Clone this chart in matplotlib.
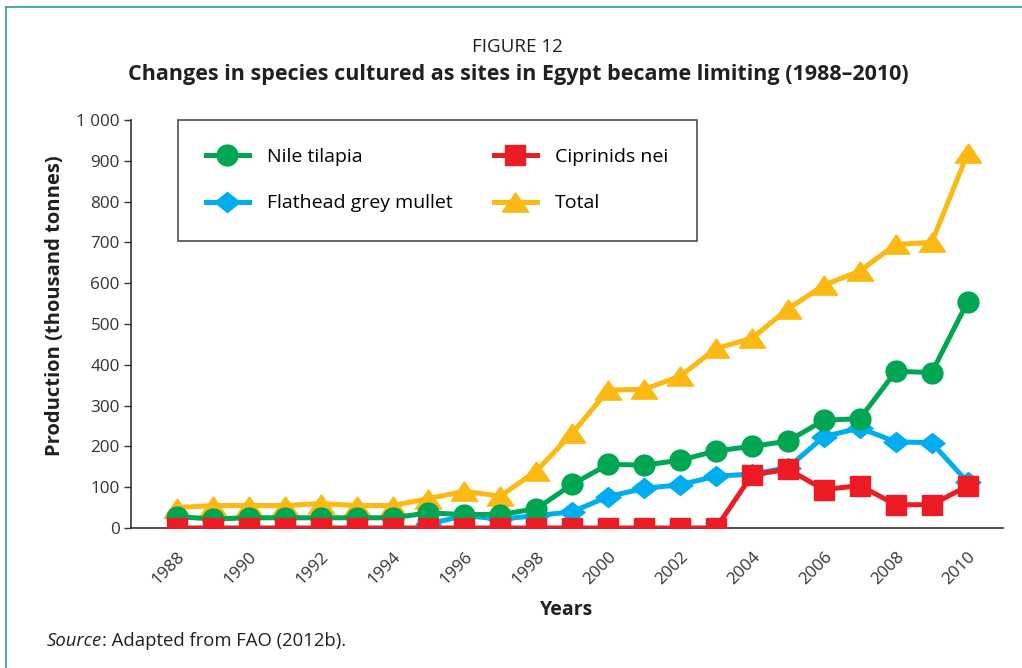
import matplotlib.pyplot as plt
from matplotlib.lines import Line2D

plt.rcParams['font.family'] = ['Open Sans', 'DejaVu Sans']

YEARS = list(range(1988, 2011))
TILAPIA = [28, 22, 25, 25, 25, 25, 25, 37, 33, 33, 47, 107, 156, 154,
           166, 189, 200, 213, 264, 268, 384, 381, 555]
MULLET = [None] * 7 + [10, 30, 22, 30, 40, 77, 97, 106, 127, 132, 148,
                       224, 245, 211, 209, 112]
CIPRINIDS = [0] * 16 + [130, 144, 94, 104, 57, 57, 103]
TOTAL = [50, 55, 55, 55, 60, 55, 55, 72, 90, 78, 140, 232, 338, 340,
         372, 440, 465, 537, 595, 630, 695, 700, 918]

X_TICKS = list(range(1988, 2011, 2))
Y_TICKS = list(range(0, 1001, 100))
Y_LABELS = ['0', '100', '200', '300', '400', '500', '600', '700', '800',
            '900', '1 000']

GREEN = '#00a651'
BLUE = '#00aeef'
RED = '#ed1c24'
YELLOW = '#fdb913'
TXT = '#231f20'

# marqueurs un peu aplatis comme dans l'original
TRI = [(0, 0.73), (-1, -0.73), (1, -0.73), (0, 0.73)]
DIAM = [(0, 0.8), (1, 0), (0, -0.8), (-1, 0), (0, 0.8)]

fig = plt.figure(figsize=(10.22, 6.68), dpi=100)
ax = fig.add_axes([0.128, 0.2096, 0.853, 0.6108])

lw = 3.6
ax.plot(YEARS, TOTAL, color=YELLOW, marker=TRI, markersize=19, lw=lw, zorder=2)
x_m = [y for y, v in zip(YEARS, MULLET) if v is not None]
v_m = [v for v in MULLET if v is not None]
ax.plot(x_m, v_m, color=BLUE, marker=DIAM, markersize=18, lw=lw, zorder=3)
ax.plot(YEARS, TILAPIA, color=GREEN, marker='o', markersize=15, lw=lw, zorder=4)
ax.plot(YEARS, CIPRINIDS, color=RED, marker='s', markersize=14, lw=lw, zorder=5)

ax.set_xlim(1986.72, 2010.97)
ax.set_ylim(0, 1000)
ax.set_xticks(X_TICKS)
ax.set_xticklabels([str(x) for x in X_TICKS], rotation=45, ha='right',
                   rotation_mode='anchor', fontsize=12.3, color='#333333')
ax.set_yticks(Y_TICKS)
ax.set_yticklabels(Y_LABELS, fontsize=12.3, color='#333333')
ax.tick_params(axis='x', length=0, pad=15)
ax.tick_params(axis='y', length=5, width=1, color='#333333', pad=3)
for s in ['top', 'right']:
    ax.spines[s].set_visible(False)
for s in ['left', 'bottom']:
    ax.spines[s].set_color('#333333')
    ax.spines[s].set_linewidth(1.2)
ax.spines['left'].set_zorder(1)

ax.set_ylabel('Production (thousand tonnes)', fontsize=14.5, fontweight='bold',
              color=TXT)
ax.yaxis.set_label_coords(-0.076, 0.544)
ax.set_xlabel('Years', fontsize=14, fontweight='bold', color=TXT, labelpad=9)

handles = [
    Line2D([], [], color=GREEN, marker='o', markersize=15, lw=lw),
    Line2D([], [], color=BLUE, marker=DIAM, markersize=18, lw=lw),
    Line2D([], [], color=RED, marker='s', markersize=14, lw=lw),
    Line2D([], [], color=YELLOW, marker=TRI, markersize=19, lw=lw),
]
labels = ['Nile tilapia', 'Flathead grey mullet', 'Ciprinids nei', 'Total']
leg = ax.legend(handles, labels, ncol=2, loc='upper left',
                bbox_to_anchor=(0.054, 0.713, 0.595, 0.287), mode='expand',
                fancybox=False, edgecolor='#231f20', fontsize=14,
                handlelength=2.2, borderaxespad=0, labelspacing=1.45,
                borderpad=1.45, handletextpad=0.95, columnspacing=2.0)
leg.get_frame().set_linewidth(1.2)
leg.set_zorder(6)

fig.text(0.506, 0.93, 'FIGURE 12', ha='center', va='center', fontsize=13.5,
         color=TXT)
fig.text(0.507, 0.888, 'Changes in species cultured as sites in Egypt became limiting (1988\u20132010)',
         ha='center', va='center', fontsize=15.5, fontweight='bold', color=TXT)

src = fig.text(0.046, 0.04, 'Source', ha='left', va='center', fontsize=13.3,
               style='italic', color=TXT)
fig.canvas.draw()
bb = src.get_window_extent().transformed(fig.transFigure.inverted())
fig.text(bb.x1, 0.04, ': Adapted from FAO (2012b).', ha='left',
         va='center', fontsize=13.3, color=TXT)

# cadre
fig.add_artist(Line2D([0.006, 1.0], [0.99, 0.99], color='#2a9d9a', lw=1.2))
fig.add_artist(Line2D([0.006, 0.006], [0.0, 0.99], color='#2a9d9a', lw=1.2))

fig.savefig('out.png', dpi=100)
